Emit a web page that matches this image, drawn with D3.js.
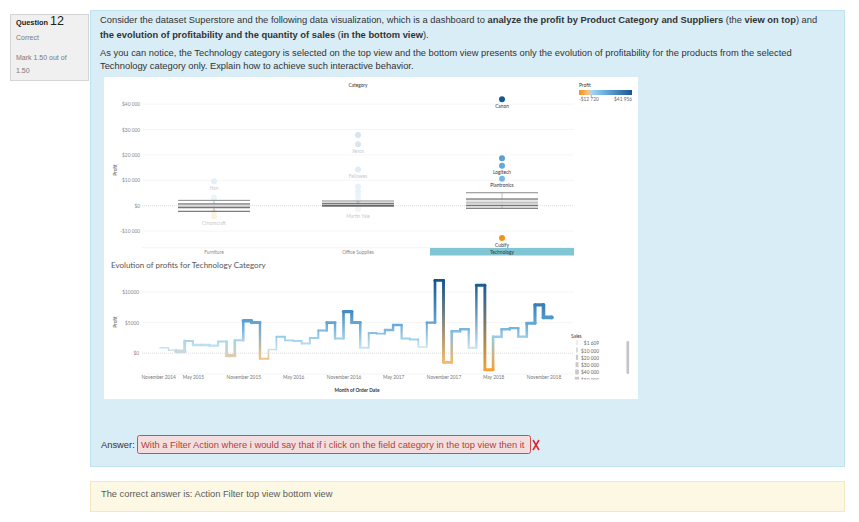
<!DOCTYPE html>
<html>
<head>
<meta charset="utf-8">
<script src="https://d3js.org/d3.v7.min.js"></script>
<style>
  body { margin: 0; background: #fff; }
  svg { display: block; }
  .page text { font-family: "Liberation Sans", Arial, sans-serif; }
  .tab text { font-family: Lato, "Open Sans", sans-serif; }
</style>
</head>
<body>
<svg width="859" height="522"></svg>
<script>
// ---- data: top view (profit per supplier, by category) ----
const categories = ['Furniture', 'Office Supplies', 'Technology'];
const selectedCategory = 'Technology';
const boxLow    = [-2200, -150, -1000];
const boxQ1     = [-800, 0, 0];
const boxMedian = [-200, 450, 1340];
const boxQ3     = [700, 950, 2640];
const boxHigh   = [2100, 1850, 5100];

const supplierCategory = ['Furniture', 'Furniture', 'Furniture', 'Furniture',
  'Office Supplies', 'Office Supplies', 'Office Supplies', 'Office Supplies', 'Office Supplies',
  'Office Supplies', 'Office Supplies', 'Office Supplies',
  'Technology', 'Technology', 'Technology', 'Technology', 'Technology'];
const supplierName = ['Hon', '', '', 'Chromcraft',
  '', 'Xerox', 'Fellowes', '', '', '', '', 'Martin Yale',
  'Canon', '', 'Logitech', 'Plantronics', 'Cubify'];
const supplierProfit = [9600, 3150, -2400, -4300,
  27800, 24200, 14300, 7500, 5800, 4100, 2200, -1400,
  41956, 18700, 15750, 10600, -12720];
const profitTicksTop = [-10000, 0, 10000, 20000, 30000, 40000];
const profitLegendRange = [-12720, 41956];

// ---- data: bottom view (monthly profit / sales, Technology) ----
const months = [
  '2015-01','2015-02','2015-03','2015-04','2015-05','2015-06','2015-07','2015-08','2015-09','2015-10','2015-11','2015-12',
  '2016-01','2016-02','2016-03','2016-04','2016-05','2016-06','2016-07','2016-08','2016-09','2016-10','2016-11','2016-12',
  '2017-01','2017-02','2017-03','2017-04','2017-05','2017-06','2017-07','2017-08','2017-09','2017-10','2017-11','2017-12',
  '2018-01','2018-02','2018-03','2018-04','2018-05','2018-06','2018-07','2018-08','2018-09','2018-10','2018-11','2018-12'];
const monthlyProfit = [
  900, 500, 300, 2000, 1350, 1350, 1250, 1900, -400, 2100, 5300, 5000,
  -900, 600, 2700, 2100, 2000, 1600, 2500, 3700, 5000, 2400, 6800, 5000,
  900, 3300, 3200, 3800, 4600, 2400, 2250, 1000, 5000, 11900, -1500, 3600,
  3900, 900, 11100, -2700, 2700, 3900, 4100, 2700, 4900, 7900, 5850, 5850];
const monthlySales = [
  11300, 9800, 42000, 17500, 23500, 24000, 22800, 17800, 36000, 18200, 36500, 31000,
  17000, 11000, 18500, 17200, 18000, 17600, 17900, 18300, 30500, 17400, 36000, 31500,
  17800, 18100, 17300, 24000, 23600, 17700, 18200, 11500, 24200, 30800, 30200, 23900,
  24100, 17600, 30900, 29800, 23700, 24300, 23800, 23500, 30600, 36200, 42300, 41800];
const profitTicksBottom = [0, 5000, 10000];
const monthTicks = ['2014-11','2015-05','2015-11','2016-05','2016-11','2017-05','2017-11','2018-05','2018-11'];
const salesLegend = [1609, 10000, 20000, 30000, 40000, 50000];

// ---- page ----
const svg = d3.select('svg');
const page = svg.append('g').attr('class', 'page');
const locale = d3.formatLocale({decimal: '.', thousands: ' ', grouping: [3], currency: ['$', ''], minus: '-'});
const fmtGroup = locale.format('$,');
const fmtPlain = locale.format('$');
const parseMonth = d3.timeParse('%Y-%m');

function fitWidth(sel, target) {
  const len = sel.node().getComputedTextLength();
  const fs = +sel.attr('font-size');
  return fs * target / len;
}

// question info box
page.append('rect').attr('x', 10.5).attr('y', 14.5).attr('width', 78).attr('height', 66)
  .attr('fill', '#f0f0f0').attr('stroke', '#d4d4d4');
const qt = page.append('text').attr('x', 16).attr('y', 24.5).attr('fill', '#222');
qt.append('tspan').attr('font-size', 7.4).attr('font-weight', 'bold').text('Question ');
qt.append('tspan').attr('font-size', 12.5).text('12');
page.append('text').attr('x', 16).attr('y', 40).attr('font-size', 7).attr('fill', '#7a7a7a').text('Correct');
page.append('text').attr('x', 16).attr('y', 59.5).attr('font-size', 7).attr('fill', '#7a7a7a').text('Mark 1.50 out of');
page.append('text').attr('x', 16).attr('y', 72.5).attr('font-size', 7).attr('fill', '#7a7a7a').text('1.50');

// blue question panel and yellow answer panel
page.append('rect').attr('x', 90.5).attr('y', 10.5).attr('width', 754).attr('height', 456)
  .attr('fill', '#d9edf7').attr('stroke', '#bfe3f0');
page.append('rect').attr('x', 90.5).attr('y', 481.5).attr('width', 754).attr('height', 30)
  .attr('fill', '#fcf8e3').attr('stroke', '#f5e6c4');

const qLines = [
  [['Consider the dataset Superstore and the following data visualization, which is a dashboard to ', false],
   ['analyze the profit by Product Category and Suppliers', true], [' (the ', false], ['view on top', true], [') and', false]],
  [['the evolution of profitability and the quantity of sales', true], [' (', false], ['in the bottom view', true], [').', false]],
  [['As you can notice, the Technology category is selected on the top view and the bottom view presents only the evolution of profitability for the products from the selected', false]],
  [['Technology category only. Explain how to achieve such interactive behavior.', false]]
];
const qBase = [23, 38, 55.5, 69];
const qTexts = qLines.map((parts, i) => {
  const t = page.append('text').attr('x', 100).attr('y', qBase[i]).attr('font-size', 9).attr('fill', '#333');
  parts.forEach(p => t.append('tspan').attr('font-weight', p[1] ? 'bold' : 'normal').text(p[0]));
  return t;
});
const qfs = fitWidth(qTexts[0], 718);
qTexts.forEach(t => t.attr('font-size', qfs));

// answer row
page.append('text').attr('x', 101).attr('y', 447.5).attr('font-size', qfs).attr('fill', '#333').text('Answer:');
page.append('rect').attr('x', 137.5).attr('y', 435.5).attr('width', 393).attr('height', 18).attr('rx', 2)
  .attr('fill', '#f2dede').attr('stroke', '#c9504c');
const ans = page.append('text').attr('x', 141).attr('y', 447.5).attr('font-size', 9).attr('fill', '#b0413e')
  .text('With a Filter Action where i would say that if i click on the field category in the top view then it');
ans.attr('font-size', fitWidth(ans, 384));
page.append('path').attr('d', 'M533,440 L539,450 M539,440 L533,450')
  .attr('stroke', '#e0262b').attr('stroke-width', 1.6).attr('fill', 'none');
const corr = page.append('text').attr('x', 101).attr('y', 496.5).attr('font-size', 9).attr('fill', '#5b5b5b')
  .text('The correct answer is: Action Filter top view bottom view');
corr.attr('font-size', fitWidth(corr, 232));

// ---- dashboard ----
const tab = svg.append('g').attr('class', 'tab');
tab.append('rect').attr('x', 104).attr('y', 77).attr('width', 534).attr('height', 322).attr('fill', '#fff');
const small = 4.8;

// ===== top view =====
const xCat = d3.scaleBand().domain(categories).range([142, 574]);
const yTop = d3.scaleLinear().domain([-10000, 40000]).range([231.1, 104.1]);
const topColor = d3.scaleLinear()
  .domain([profitLegendRange[0], -3000, 0, 12000, profitLegendRange[1]])
  .range(['#f4901c', '#f8c37e', '#a9d6f0', '#6fb4e3', '#1a5691']);

tab.append('text').attr('x', 358).attr('y', 87).attr('text-anchor', 'middle')
  .attr('font-size', small).attr('fill', '#333').text('Category');

tab.append('g').selectAll('line').data(profitTicksTop).join('line')
  .attr('x1', 142).attr('x2', 574).attr('y1', d => yTop(d)).attr('y2', d => yTop(d))
  .attr('stroke', d => d === 0 ? '#c8c8c8' : '#efefef').attr('stroke-width', 0.6)
  .attr('stroke-dasharray', d => d === 0 ? '1,1' : null);
tab.append('line').attr('x1', 142).attr('x2', 574).attr('y1', 247.7).attr('y2', 247.7)
  .attr('stroke', '#ededed').attr('stroke-width', 0.6);

const gyTop = tab.append('g').attr('transform', 'translate(140,0)')
  .call(d3.axisLeft(yTop).tickValues(profitTicksTop).tickFormat(fmtGroup).tickSize(0).tickPadding(0));
gyTop.select('.domain').remove();
gyTop.attr('font-family', null).attr('font-size', null);
gyTop.selectAll('text').attr('font-size', small).attr('fill', '#888');
tab.append('text').attr('transform', 'translate(117,170) rotate(-90)').attr('text-anchor', 'middle')
  .attr('font-size', small).attr('fill', '#666').text('Profit');

// selected category header
tab.append('rect').attr('x', xCat(selectedCategory)).attr('y', 248).attr('width', xCat.bandwidth()).attr('height', 7.5)
  .attr('fill', '#80c5d4');
tab.append('g').selectAll('text').data(categories).join('text')
  .attr('x', d => xCat(d) + xCat.bandwidth() / 2).attr('y', 253.6).attr('text-anchor', 'middle')
  .attr('font-size', small).attr('fill', d => d === selectedCategory ? '#333' : '#888').text(d => d);

// supplier points
const suppliers = supplierProfit.map((p, i) => ({cat: supplierCategory[i], name: supplierName[i], profit: p}));
const ptColor = d => d.cat === selectedCategory ? topColor(d.profit) : d3.interpolateRgb(topColor(d.profit), '#fff')(0.78);
tab.append('g').selectAll('circle').data(suppliers).join('circle')
  .attr('cx', d => xCat(d.cat) + xCat.bandwidth() / 2).attr('cy', d => yTop(d.profit)).attr('r', 3)
  .attr('fill', ptColor);
tab.append('g').selectAll('text').data(suppliers.filter(d => d.name)).join('text')
  .attr('x', d => xCat(d.cat) + xCat.bandwidth() / 2).attr('y', d => yTop(d.profit) + 8.5)
  .attr('text-anchor', 'middle').attr('font-size', small)
  .attr('fill', d => d.cat === selectedCategory ? '#333' : '#c9c9c9').text(d => d.name);

// box plots
const boxes = categories.map((c, i) => ({cat: c, lo: boxLow[i], q1: boxQ1[i], med: boxMedian[i], q3: boxQ3[i], hi: boxHigh[i]}));
const bw = xCat.bandwidth() * 0.5;
const gBox = tab.append('g').selectAll('g').data(boxes).join('g')
  .attr('transform', d => `translate(${xCat(d.cat) + xCat.bandwidth() / 2},0)`);
gBox.append('line').attr('x1', 0).attr('x2', 0).attr('y1', d => yTop(d.hi)).attr('y2', d => yTop(d.lo))
  .attr('stroke', '#999').attr('stroke-width', 0.6);
gBox.append('rect').attr('x', -bw / 2).attr('width', bw).attr('y', d => yTop(d.q3)).attr('height', d => yTop(d.med) - yTop(d.q3))
  .attr('fill', '#e6e6e6').attr('opacity', 0.9);
gBox.append('rect').attr('x', -bw / 2).attr('width', bw).attr('y', d => yTop(d.med)).attr('height', d => yTop(d.q1) - yTop(d.med))
  .attr('fill', '#cfcfcf').attr('opacity', 0.9);
['hi', 'q3', 'q1', 'lo'].forEach(k => {
  gBox.append('line').attr('x1', -bw / 2).attr('x2', bw / 2).attr('y1', d => yTop(d[k])).attr('y2', d => yTop(d[k]))
    .attr('stroke', k === 'hi' ? '#8a8a8a' : '#5a5a5a').attr('stroke-width', 1);
});
gBox.append('line').attr('x1', -bw / 2).attr('x2', bw / 2).attr('y1', d => yTop(d.med)).attr('y2', d => yTop(d.med))
  .attr('stroke', '#a5a5a5').attr('stroke-width', 0.6);

// profit colour legend
const legX = d3.scaleLinear().domain(profitLegendRange).range([579, 632]);
const grad = tab.append('defs').append('linearGradient').attr('id', 'profitLegend');
topColor.domain().forEach(v => {
  grad.append('stop').attr('offset', (legX(v) - 579) / 53).attr('stop-color', topColor(v));
});
tab.append('text').attr('x', 579).attr('y', 87).attr('font-size', small).attr('fill', '#333').text('Profit');
tab.append('rect').attr('x', 579).attr('y', 90).attr('width', 53).attr('height', 5).attr('fill', 'url(#profitLegend)');
tab.append('line').attr('x1', legX(0)).attr('x2', legX(0)).attr('y1', 95).attr('y2', 97).attr('stroke', '#555').attr('stroke-width', 0.5);
tab.append('text').attr('x', 579).attr('y', 101).attr('font-size', small).attr('fill', '#666').text(fmtGroup(profitLegendRange[0]));
tab.append('text').attr('x', 632).attr('y', 101).attr('text-anchor', 'end').attr('font-size', small).attr('fill', '#666').text(fmtGroup(profitLegendRange[1]));

// ===== bottom view =====
const title = tab.append('text').attr('x', 111).attr('y', 268).attr('font-size', 8).attr('fill', '#555')
  .text('Evolution of profits  for Technology Category');
title.attr('font-size', fitWidth(title, 155));

const xTime = d3.scaleTime().domain([parseMonth('2015-01'), parseMonth('2018-12')]).range([160, 551.7]);
const yBot = d3.scaleLinear().domain([0, 10000]).range([353.2, 292]);
const botColor = d3.scaleLinear()
  .domain([-2700, -1000, 0, 1000, 3000, 6000, 11900])
  .range(['#f5a030', '#f5c382', '#c7d4d2', '#c6e4f3', '#8ec6e7', '#4c93cc', '#15558e']);
const sw = d3.scaleLinear().domain([0, 50000]).range([0.6, 4.4]);

tab.append('g').selectAll('line').data(profitTicksBottom).join('line')
  .attr('x1', 142).attr('x2', 574).attr('y1', d => yBot(d)).attr('y2', d => yBot(d))
  .attr('stroke', d => d === 0 ? '#c8c8c8' : '#efefef').attr('stroke-width', 0.6)
  .attr('stroke-dasharray', d => d === 0 ? '1,1' : null);
tab.append('line').attr('x1', 142).attr('x2', 574).attr('y1', 374).attr('y2', 374)
  .attr('stroke', '#ededed').attr('stroke-width', 0.6);

const gyBot = tab.append('g').attr('transform', 'translate(139,0)')
  .call(d3.axisLeft(yBot).tickValues(profitTicksBottom).tickFormat(fmtPlain).tickSize(0).tickPadding(0));
gyBot.select('.domain').remove();
gyBot.attr('font-family', null).attr('font-size', null);
gyBot.selectAll('text').attr('font-size', small).attr('fill', '#888');
tab.append('text').attr('transform', 'translate(117,322) rotate(-90)').attr('text-anchor', 'middle')
  .attr('font-size', small).attr('fill', '#666').text('Profit');

const gxBot = tab.append('g').attr('transform', 'translate(0,376)')
  .call(d3.axisBottom(xTime).tickValues(monthTicks.map(parseMonth)).tickFormat(d3.timeFormat('%B %Y')).tickSize(0).tickPadding(0));
gxBot.select('.domain').remove();
gxBot.attr('font-family', null).attr('font-size', null);
gxBot.selectAll('text').attr('font-size', small).attr('fill', '#777').attr('dy', '0.71em');
gxBot.select('.tick text').attr('text-anchor', 'start').attr('x', 141 - xTime(parseMonth(monthTicks[0])));
tab.append('text').attr('x', 357).attr('y', 392).attr('text-anchor', 'middle').attr('font-size', small)
  .attr('font-weight', 'bold').attr('fill', '#333').text('Month of Order Date');

// step line, coloured by profit, width by sales
const pts = months.map((m, i) => ({date: parseMonth(m), profit: monthlyProfit[i], sales: monthlySales[i]}));
const lineDefs = tab.append('defs');
const gLine = tab.append('g').attr('fill', 'none').attr('stroke-linecap', 'round');
const segs = d3.pairs(pts);
segs.forEach(([a, b], i) => {
  const xb = xTime(b.date);
  const g = lineDefs.append('linearGradient').attr('id', 'seg' + i).attr('gradientUnits', 'userSpaceOnUse')
    .attr('x1', xb).attr('x2', xb).attr('y1', yBot(a.profit)).attr('y2', yBot(b.profit) + 0.01);
  g.append('stop').attr('offset', 0).attr('stop-color', botColor(a.profit));
  g.append('stop').attr('offset', 1).attr('stop-color', botColor(b.profit));
  gLine.append('line').attr('x1', xb).attr('x2', xb).attr('y1', yBot(a.profit)).attr('y2', yBot(b.profit))
    .attr('stroke', `url(#seg${i})`).attr('stroke-width', (sw(a.sales) + sw(b.sales)) / 2);
});
segs.forEach(([a, b]) => {
  gLine.append('line').attr('x1', xTime(a.date)).attr('x2', xTime(b.date))
    .attr('y1', yBot(a.profit)).attr('y2', yBot(a.profit))
    .attr('stroke', botColor(a.profit)).attr('stroke-width', sw(a.sales));
});

// sales size legend (scrollable box, last row cut off)
tab.append('text').attr('x', 571).attr('y', 337.5).attr('font-size', small).attr('fill', '#333').text('Sales');
tab.append('defs').append('clipPath').attr('id', 'salesClip')
  .append('rect').attr('x', 565).attr('y', 339).attr('width', 70).attr('height', 40.5);
const gSales = tab.append('g').attr('clip-path', 'url(#salesClip)');
const rowY = d3.scalePoint().domain(salesLegend).range([344, 380.6]);
gSales.selectAll('rect').data(salesLegend).join('rect')
  .attr('x', d => 577 - sw(d) / 2).attr('y', d => rowY(d) - 3.8).attr('width', d => sw(d)).attr('height', 5)
  .attr('fill', '#c9c9c9');
gSales.selectAll('text').data(salesLegend).join('text')
  .attr('x', 599).attr('y', d => rowY(d) + 1.2).attr('text-anchor', 'end').attr('font-size', small)
  .attr('fill', '#666').text(d => fmtGroup(d));
tab.append('rect').attr('x', 626.5).attr('y', 341).attr('width', 2.6).attr('height', 33).attr('rx', 1.2).attr('fill', '#c4c4c4');
</script>
</body>
</html>
